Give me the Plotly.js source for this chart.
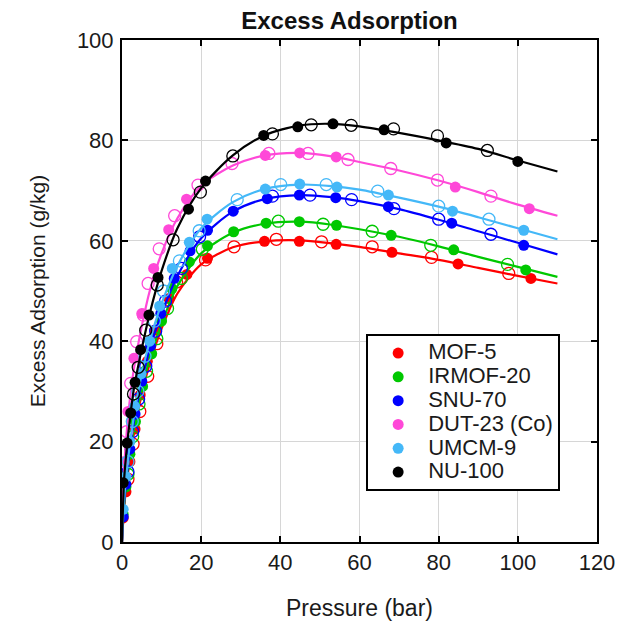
<!DOCTYPE html>
<html>
<head>
<meta charset="utf-8">
<script src="https://cdn.plot.ly/plotly-3.0.1.min.js"></script>
<style>html,body{margin:0;padding:0;background:#fff;}#chart{width:620px;height:621px;}</style>
</head>
<body>
<div id="chart"></div>
<script>
// Series names and colours
var names  = ["MOF-5", "IRMOF-20", "SNU-70", "DUT-23 (Co)", "UMCM-9", "NU-100"];
var colors = ["#ff0000", "#00c800", "#0000ff", "#ff48d8", "#44b8f8", "#000000"];

// Adsorption (filled markers)
var mof5_ads_p = [0.3, 1.0, 2.0, 3.3, 4.6, 6.4, 8.3, 11.9, 16.4, 21.6, 36.0, 44.8, 54.1, 68.2, 84.9, 103.3];
var mof5_ads_e = [4.8, 10.0, 16.0, 22.5, 29.3, 36.0, 42.2, 48.5, 53.3, 56.5, 59.9, 59.9, 59.3, 57.7, 55.4, 52.5];
var irmof20_ads_p = [0.3, 1.0, 2.0, 3.4, 5.2, 7.5, 10.0, 12.6, 17.0, 21.6, 28.2, 36.4, 44.8, 54.2, 68.0, 83.8, 102.0];
var irmof20_ads_e = [5.5, 11.0, 17.5, 24.0, 31.0, 37.5, 44.0, 50.5, 55.8, 59.0, 61.8, 63.5, 63.8, 63.1, 61.1, 58.2, 54.2];
var snu70_ads_p = [0.3, 1.0, 2.0, 3.3, 5.0, 7.2, 9.8, 13.2, 17.2, 21.6, 28.1, 36.7, 44.8, 54.0, 67.3, 83.3, 101.5];
var snu70_ads_e = [5.0, 11.5, 18.5, 25.5, 32.0, 39.0, 45.5, 52.5, 58.0, 62.1, 65.9, 68.4, 69.1, 68.6, 66.8, 63.5, 59.1];
var dut23_ads_p = [0.5, 1.5, 3.0, 5.0, 8.0, 11.8, 16.3, 36.2, 44.9, 54.1, 84.2, 102.9];
var dut23_ads_e = [16.0, 26.0, 36.6, 45.5, 54.5, 62.2, 68.3, 77.0, 77.5, 76.7, 70.7, 66.4];
var umcm9_ads_p = [0.3, 1.0, 2.0, 3.2, 4.8, 7.0, 9.5, 12.7, 17.0, 21.5, 36.2, 44.9, 54.3, 67.3, 83.5, 101.5];
var umcm9_ads_e = [6.5, 13.0, 20.0, 27.0, 33.5, 40.0, 47.0, 54.5, 59.7, 64.3, 70.3, 71.3, 70.7, 69.1, 65.9, 62.1];
var nu100_ads_p = [0.3, 1.3, 2.2, 3.3, 4.7, 6.8, 9.1, 16.8, 21.1, 35.8, 44.4, 53.3, 66.2, 81.9, 100.0];
var nu100_ads_e = [11.8, 19.7, 25.7, 31.8, 38.3, 45.2, 52.7, 66.3, 71.9, 81.0, 82.7, 83.3, 82.1, 79.5, 75.8];

// Desorption (open markers)
var mof5_des_p = [1.5, 2.8, 4.5, 6.5, 8.8, 10.4, 13.8, 21.1, 28.3, 39.0, 50.4, 63.2, 78.2, 97.7];
var mof5_des_e = [12.5, 19.5, 26.0, 33.0, 39.5, 46.2, 51.8, 56.2, 58.8, 60.3, 59.8, 58.8, 56.7, 53.5];
var irmof20_des_p = [1.5, 2.7, 4.3, 6.2, 8.8, 11.5, 15.0, 20.3, 39.5, 50.8, 63.2, 78.0, 97.4];
var irmof20_des_e = [13.5, 21.0, 27.5, 34.0, 40.5, 46.5, 52.5, 58.3, 63.9, 63.3, 61.9, 59.1, 55.3];
var snu70_des_p = [1.5, 2.7, 4.2, 6.0, 8.5, 11.0, 15.0, 19.6, 38.0, 47.5, 58.0, 68.7, 80.0, 93.2];
var snu70_des_e = [14.0, 22.0, 28.5, 35.0, 42.0, 48.0, 54.5, 60.8, 68.9, 69.1, 68.2, 66.4, 64.3, 61.3];
var dut23_des_p = [1.2, 2.2, 3.7, 5.4, 6.6, 9.4, 13.3, 19.2, 27.8, 37.1, 47.0, 57.1, 67.9, 79.7, 93.2];
var dut23_des_e = [22.0, 31.6, 39.9, 45.2, 51.5, 58.4, 65.0, 71.1, 75.4, 77.4, 77.4, 76.2, 74.4, 72.1, 68.9];
var umcm9_des_p = [1.5, 2.6, 4.0, 5.8, 8.2, 10.5, 14.5, 19.5, 29.1, 40.1, 51.6, 64.6, 80.0, 92.7];
var umcm9_des_e = [16.0, 24.0, 30.0, 37.0, 44.0, 50.0, 56.0, 62.0, 68.2, 71.2, 71.2, 69.9, 66.9, 64.3];
var nu100_des_p = [2.9, 4.1, 6.0, 8.9, 12.9, 19.8, 28.0, 38.0, 47.8, 57.9, 68.6, 79.7, 92.3];
var nu100_des_e = [29.5, 34.8, 42.2, 51.2, 60.2, 69.7, 76.9, 81.3, 83.1, 83.0, 82.3, 80.9, 78.0];

// Fit curves
var fit_p = [0, 0.5, 1, 2, 3, 5, 7, 10, 14, 20, 28, 36, 45, 53, 60, 70, 80, 90, 100, 110];
var mof5_fit    = [0, 6.5, 10.5, 16.5, 21.5, 29.5, 35.5, 42.5, 49.5, 55.3, 58.7, 59.9, 60.1, 59.5, 58.8, 57.5, 56.2, 54.6, 53.0, 51.5];
var irmof20_fit = [0, 7.0, 11.0, 17.5, 22.5, 30.5, 36.5, 43.5, 51.0, 57.5, 61.6, 63.4, 63.8, 63.2, 62.3, 60.8, 58.9, 56.8, 54.8, 52.8];
var snu70_fit   = [0, 7.5, 11.5, 18.5, 24.0, 32.0, 38.5, 45.5, 53.0, 60.5, 65.8, 68.3, 69.1, 68.7, 67.9, 66.3, 64.2, 61.9, 59.6, 57.3];
var dut23_fit   = [0, 14.0, 20.0, 28.5, 34.5, 43.0, 50.0, 57.5, 64.5, 71.0, 75.0, 77.0, 77.5, 76.8, 75.7, 74.0, 72.0, 69.7, 67.2, 65.0];
var umcm9_fit   = [0, 8.0, 12.5, 19.5, 25.0, 33.5, 40.0, 47.5, 55.0, 62.5, 67.7, 70.3, 71.2, 70.9, 70.2, 68.6, 66.8, 64.7, 62.5, 60.3];
var nu100_fit   = [0, 12.0, 17.0, 24.5, 30.5, 38.5, 45.5, 54.0, 62.5, 70.5, 77.0, 81.0, 83.0, 83.3, 82.8, 81.5, 80.0, 78.3, 76.0, 73.8];

var ads_p = [mof5_ads_p, irmof20_ads_p, snu70_ads_p, dut23_ads_p, umcm9_ads_p, nu100_ads_p];
var ads_e = [mof5_ads_e, irmof20_ads_e, snu70_ads_e, dut23_ads_e, umcm9_ads_e, nu100_ads_e];
var des_p = [mof5_des_p, irmof20_des_p, snu70_des_p, dut23_des_p, umcm9_des_p, nu100_des_p];
var des_e = [mof5_des_e, irmof20_des_e, snu70_des_e, dut23_des_e, umcm9_des_e, nu100_des_e];
var fits  = [mof5_fit, irmof20_fit, snu70_fit, dut23_fit, umcm9_fit, nu100_fit];

var traces = [];
for (var i = 0; i < names.length; i++) {
  traces.push({x: fit_p, y: fits[i], mode: 'lines', type: 'scatter', showlegend: false,
    line: {color: colors[i], width: 2.2, shape: 'spline', smoothing: 0.8}, hoverinfo: 'skip'});
  traces.push({x: des_p[i], y: des_e[i], mode: 'markers', type: 'scatter', showlegend: false,
    marker: {symbol: 'circle-open', size: 12, color: colors[i], line: {width: 1.3, color: colors[i]}}});
  traces.push({x: ads_p[i], y: ads_e[i], mode: 'markers', type: 'scatter',
    name: '<span style="font-size:22px">' + names[i] + '</span>',
    marker: {symbol: 'circle', size: 11, color: colors[i]}});
}

var fnt = "Liberation Sans, Arial, sans-serif";
var layout = {
  width: 620, height: 621,
  margin: {l: 122, r: 23, t: 40, b: 79},
  paper_bgcolor: '#ffffff', plot_bgcolor: '#ffffff',
  font: {family: fnt, color: '#1a1a1a', size: 19},
  title: {text: '<b>Excess Adsorption</b>', x: 0.479, xanchor: 'center', xref: 'paper', y: 0.967, yanchor: 'middle', yref: 'container',
          font: {family: fnt, size: 24, color: '#111'}},
  xaxis: {range: [0, 120], dtick: 20, tick0: 0, showgrid: true, gridcolor: '#d6d6d6', gridwidth: 1,
          showline: true, linecolor: '#000', linewidth: 2, mirror: 'ticks', ticks: 'inside', ticklen: 6, tickwidth: 2, tickcolor: '#000',
          zeroline: false, tickfont: {size: 22, family: fnt, color: '#1a1a1a'},
          title: {text: 'Pressure (bar)', font: {size: 23, family: fnt, color: '#1a1a1a'}, standoff: 26}},
  yaxis: {range: [0, 100], dtick: 20, tick0: 0, showgrid: true, gridcolor: '#d6d6d6', gridwidth: 1,
          showline: true, linecolor: '#000', linewidth: 2, mirror: 'ticks', ticks: 'inside', ticklen: 6, tickwidth: 2, tickcolor: '#000',
          zeroline: false, tickfont: {size: 22, family: fnt, color: '#1a1a1a'}, ticklabelstandoff: 2,
          title: {text: 'Excess Adsorption (g/kg)', font: {size: 21, family: fnt, color: '#1a1a1a'}, standoff: 26}},
  legend: {x: 0.514, xanchor: 'left', y: 0.414, yanchor: 'top', bgcolor: '#ffffff', bordercolor: '#000', borderwidth: 2,
           font: {size: 16, family: fnt, color: '#1a1a1a'}, itemwidth: 50, tracegroupgap: 0},
  showlegend: true
};

Plotly.newPlot('chart', traces, layout, {displayModeBar: false, staticPlot: true});
</script>
</body>
</html>
